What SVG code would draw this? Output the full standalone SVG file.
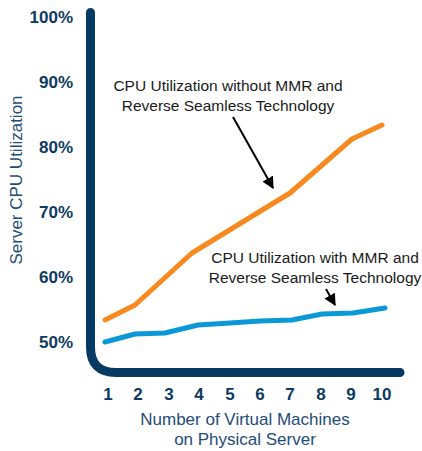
<svg xmlns="http://www.w3.org/2000/svg" width="422" height="451" viewBox="0 0 422 451">
<defs>
<style>
.tick{font-family:"Liberation Sans",Arial,sans-serif;font-weight:bold;font-size:17px;fill:#0d3a5f}
.title{font-family:"Liberation Sans",Arial,sans-serif;font-size:17px;fill:#1e4d78}
.note{font-family:"Liberation Sans",Arial,sans-serif;font-size:15.5px;fill:#1a1a1a;text-anchor:middle}
.axis{fill:none;stroke:#063a62;stroke-width:9;stroke-linecap:round;stroke-linejoin:round}
.series{fill:none;stroke-width:5;stroke-linecap:round;stroke-linejoin:round}
.ptr{stroke:#000;stroke-width:2;fill:none}
</style>
<marker id="ah" viewBox="0 0 10 10" refX="9" refY="5" markerWidth="6" markerHeight="6" orient="auto" markerUnits="strokeWidth">
<path d="M0,0 L10,5 L0,10 z" fill="#000"/>
</marker>
</defs>
<g id="axes">
<path class="axis" d="M90.5,12.5 V347 Q90.5,372.5 116,372.5 H400"/>
</g>
<g id="y-ticks" class="tick" text-anchor="end">
<text x="73" y="23">100%</text>
<text x="73" y="88">90%</text>
<text x="73" y="153">80%</text>
<text x="73" y="218">70%</text>
<text x="73" y="283">60%</text>
<text x="73" y="348">50%</text>
</g>
<g id="x-ticks" class="tick" text-anchor="middle">
<text x="108" y="400">1</text>
<text x="138" y="400">2</text>
<text x="169" y="400">3</text>
<text x="199" y="400">4</text>
<text x="230" y="400">5</text>
<text x="260" y="400">6</text>
<text x="290" y="400">7</text>
<text x="321" y="400">8</text>
<text x="351" y="400">9</text>
<text x="382" y="400">10</text>
</g>
<g id="y-title">
<text class="title" transform="translate(22,180) rotate(-90)" text-anchor="middle" font-size="16.5">Server CPU Utilization</text>
</g>
<g id="x-title" class="title" text-anchor="middle">
<text x="245" y="425">Number of Virtual Machines</text>
<text x="245" y="445">on Physical Server</text>
</g>
<g id="series-without">
<polyline class="series" stroke="#f7891f" points="105,320 135,305 192,253 290,193 352,139 382,125"/>
</g>
<g id="series-with">
<polyline class="series" stroke="#0b98d6" points="105,342 135,334 165,333 198,325 230,323 260,321 292,320 322,314 353,313 385,308"/>
</g>
<g id="label-without" class="note">
<text x="228" y="91">CPU Utilization without MMR and</text>
<text x="228" y="111">Reverse Seamless Technology</text>
</g>
<g id="label-with" class="note">
<text x="315" y="263">CPU Utilization with MMR and</text>
<text x="315" y="283">Reverse Seamless Technology</text>
</g>
<g id="connectors">
<line class="ptr" x1="233" y1="117" x2="273" y2="188" marker-end="url(#ah)"/>
<line class="ptr" x1="326" y1="289" x2="335" y2="305" marker-end="url(#ah)"/>
</g>
</svg>
